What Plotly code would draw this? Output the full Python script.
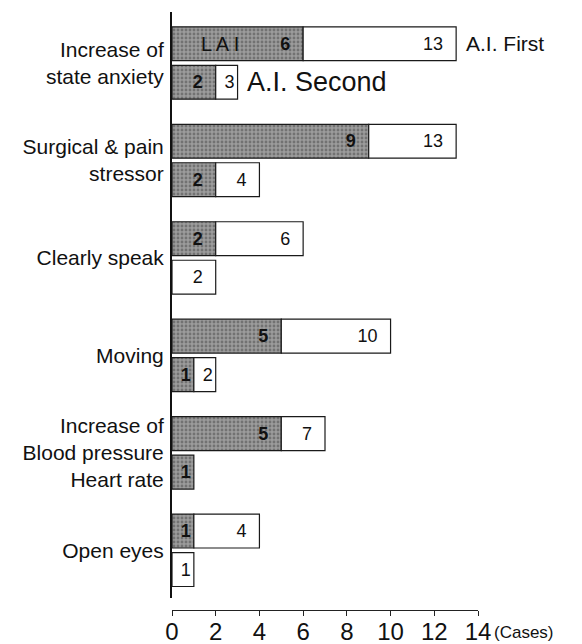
import plotly.graph_objects as go

categories = ["Increase of<br>state anxiety", "Surgical & pain<br>stressor", "Clearly speak",
              "Moving", "Increase of<br>Blood pressure<br>Heart rate", "Open eyes"]
# LAI cases (gray) and total cases (bar end), A.I. First / A.I. Second
lai_first = [6, 9, 2, 5, 5, 1]
total_first = [13, 13, 6, 10, 7, 4]
lai_second = [2, 2, 0, 1, 1, 0]
total_second = [3, 4, 2, 2, 1, 1]
x_ticks = [0, 2, 4, 6, 8, 10, 12, 14]

PITCH = 2.532   # category spacing in row units
ROW = 1.0
BARW = 0.88

ys, lai, tot = [], [], []
for i in range(len(categories)):
    for j, (l, t) in enumerate([(lai_first[i], total_first[i]), (lai_second[i], total_second[i])]):
        ys.append(i * PITCH + j * ROW)
        lai.append(l)
        tot.append(t)

FONT = "Liberation Sans, Arial, Helvetica, sans-serif"
NB = "\u00a0"

def pad(v, width):
    # small trailing padding for wider segments, centred look for 1-case segments
    return str(v) + (NB * 2 if width > 1 else "")

fig = go.Figure()

# gray LAI segments
gy = [y for y, l in zip(ys, lai) if l > 0]
gx = [l for l in lai if l > 0]
fig.add_trace(go.Bar(
    y=gy, x=gx, base=0, orientation="h", width=BARW,
    marker=dict(color="#9c9c9c", line=dict(color="#1a1a1a", width=1.2),
                pattern=dict(shape=".", fgcolor="#474747", bgcolor="#9c9c9c", size=4, solidity=0.4)),
    text=[pad(v, v) for v in gx], textposition="inside",
    insidetextanchor="end", constraintext="none", textangle=0,
    textfont=dict(family=FONT, size=18, color="#111111", weight="bold"),
    hoverinfo="skip", showlegend=False,
))

# white remainder segments up to total
wy = [y for y, l, t in zip(ys, lai, tot) if t > l]
wb = [l for l, t in zip(lai, tot) if t > l]
wx = [t - l for l, t in zip(lai, tot) if t > l]
wt = [pad(t, t - l) for l, t in zip(lai, tot) if t > l]
fig.add_trace(go.Bar(
    y=wy, x=wx, base=wb, orientation="h", width=BARW,
    marker=dict(color="white", line=dict(color="#1a1a1a", width=1.2)),
    text=wt, textposition="inside", insidetextanchor="end",
    constraintext="none", textangle=0,
    textfont=dict(family=FONT, size=18, color="#111111"),
    hoverinfo="skip", showlegend=False,
))

annotations = [
    dict(x=2.2, y=ys[0], xref="x", yref="y", text="L A I", showarrow=False,
         font=dict(family=FONT, size=20, color="#111111")),
    dict(x=total_first[0] + 0.35, y=ys[0], xref="x", yref="y", text="A.I. First", showarrow=False,
         xanchor="left", font=dict(family=FONT, size=21, color="#111111")),
    dict(x=total_second[0] + 0.35, y=ys[1], xref="x", yref="y", text="A.I. Second", showarrow=False,
         xanchor="left", font=dict(family=FONT, size=27, color="#111111")),
    dict(x=1, y=0, xref="paper", yref="paper", text="(Cases)", showarrow=False,
         xanchor="left", yanchor="top", xshift=14, yshift=-11,
         font=dict(family=FONT, size=17, color="#111111")),
]

fig.update_layout(
    width=582, height=644,
    margin=dict(l=172, r=104, t=12, b=34, autoexpand=False),
    paper_bgcolor="white", plot_bgcolor="white",
    barmode="overlay",
    annotations=annotations,
    xaxis=dict(range=[0, 14], tickvals=x_ticks, showgrid=False, zeroline=False,
               showline=True, linecolor="#222222", linewidth=1.2,
               ticks="outside", ticklen=5, tickcolor="#222222", tickwidth=1.2,
               anchor="free", position=0, automargin=False, ticklabelstandoff=-5,
               tickfont=dict(family=FONT, size=24, color="#111111")),
    yaxis=dict(range=[14.40, -0.825], domain=[0.02, 1], automargin=False,
               tickvals=[i * PITCH + 0.5 for i in range(len(categories))],
               ticktext=categories, showgrid=False, zeroline=False,
               showline=True, linecolor="#111111", linewidth=2,
               ticks="", ticklabelstandoff=2,
               tickfont=dict(family=FONT, size=21, color="#111111")),
)

fig.write_html("out.html", config={"displayModeBar": False},
               post_script="document.body.style.margin='0';document.body.style.padding='0';")
